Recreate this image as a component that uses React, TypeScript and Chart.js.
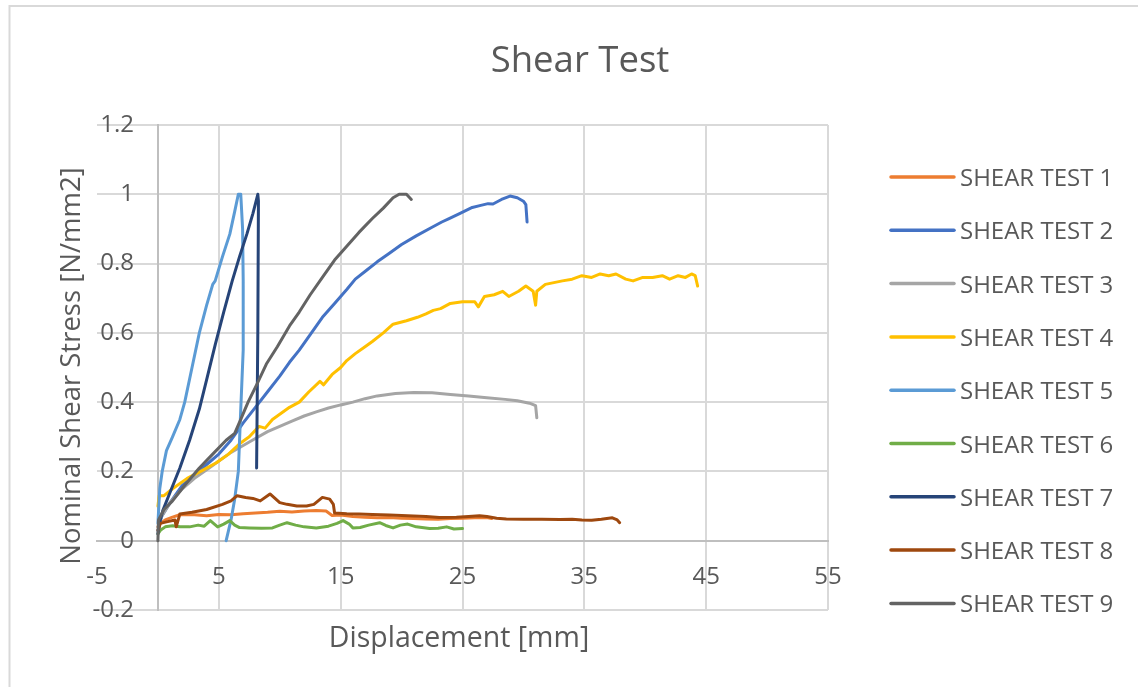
import React, { useEffect, useRef } from 'react';
import { Chart, registerables } from 'chart.js';

Chart.register(...registerables);

const chartTitle = 'Shear Test';
const xAxisTitle = 'Displacement [mm]';
const yAxisTitle = 'Nominal Shear Stress [N/mm2]';

const seriesLabels = [
  'SHEAR TEST 1', 'SHEAR TEST 2', 'SHEAR TEST 3', 'SHEAR TEST 4', 'SHEAR TEST 5',
  'SHEAR TEST 6', 'SHEAR TEST 7', 'SHEAR TEST 8', 'SHEAR TEST 9',
];
const seriesColors = ['#ED7D31', '#4472C4', '#A5A5A5', '#FFC000', '#5B9BD5', '#70AD47', '#264478', '#9E480E', '#636363'];

const xTicks = [-5, 5, 15, 25, 35, 45, 55];
const yTicks = [-0.2, 0, 0.2, 0.4, 0.6, 0.8, 1, 1.2];

const test1X = [0, 0.2, 0.6, 1.2, 1.8, 3, 4, 5, 6, 7, 8, 9, 10, 11, 12, 13, 13.8, 14.3, 15, 16, 17, 18, 19, 20, 21, 22, 23, 24, 25, 26, 27, 27.4];
const test1Y = [0.04, 0.05, 0.06, 0.068, 0.075, 0.075, 0.072, 0.076, 0.075, 0.078, 0.08, 0.082, 0.085, 0.083, 0.086, 0.087, 0.086, 0.073, 0.074, 0.07, 0.068, 0.066, 0.067, 0.065, 0.064, 0.063, 0.062, 0.064, 0.065, 0.066, 0.067, 0.064];

const test2X = [0, 0.3, 1, 2, 3, 4, 5, 6, 7, 8, 9, 10, 10.8, 11.6, 12.5, 13.5, 14.5, 15.5, 16.2, 17.1, 18, 19, 20, 21.2, 22.5, 23.3, 23.9, 24.8, 25.8, 26.5, 27.1, 27.5, 28.2, 28.9, 29.5, 30, 30.2, 30.3];
const test2Y = [0.03, 0.07, 0.11, 0.16, 0.19, 0.22, 0.25, 0.29, 0.34, 0.385, 0.43, 0.475, 0.515, 0.55, 0.595, 0.645, 0.685, 0.725, 0.755, 0.78, 0.805, 0.83, 0.855, 0.88, 0.905, 0.92, 0.93, 0.945, 0.962, 0.968, 0.973, 0.972, 0.985, 0.995, 0.99, 0.98, 0.97, 0.92];

const test3X = [0, 0.3, 1, 2, 3, 4, 5, 6, 7, 8, 9, 10, 11, 12, 13, 14, 15, 16, 17, 18, 19.5, 21, 22.5, 24, 25.5, 27, 28.5, 29.5, 30.5, 31, 31.1];
const test3Y = [0.04, 0.07, 0.11, 0.15, 0.18, 0.205, 0.23, 0.255, 0.275, 0.295, 0.315, 0.33, 0.345, 0.36, 0.372, 0.383, 0.392, 0.4, 0.41, 0.418, 0.425, 0.428, 0.427, 0.422, 0.418, 0.413, 0.408, 0.404, 0.397, 0.39, 0.355];

const test4X = [0, 0.1, 0.5, 1.2, 2.4, 3.5, 4.8, 5.8, 6.7, 7.5, 8.3, 8.8, 9.4, 10.2, 10.8, 11.6, 12.4, 13.3, 13.6, 14.3, 15, 15.5, 16.2, 17, 17.6, 18.5, 19.3, 20.4, 21.3, 22, 22.6, 23.2, 24, 25, 26, 26.3, 26.8, 27.6, 28.3, 28.8, 29.6, 30.2, 30.8, 31, 31.1, 31.8, 32.5, 33.2, 34, 34.8, 35.6, 36.3, 37, 37.6, 38.4, 39, 39.8, 40.6, 41.4, 42, 42.7, 43.3, 43.8, 44.1, 44.3];
const test4Y = [0.1, 0.13, 0.13, 0.15, 0.18, 0.2, 0.225, 0.25, 0.28, 0.3, 0.33, 0.325, 0.35, 0.37, 0.385, 0.4, 0.43, 0.46, 0.45, 0.48, 0.5, 0.52, 0.54, 0.56, 0.575, 0.6, 0.625, 0.635, 0.645, 0.655, 0.665, 0.67, 0.685, 0.69, 0.69, 0.675, 0.705, 0.71, 0.72, 0.705, 0.72, 0.735, 0.72, 0.68, 0.72, 0.74, 0.745, 0.75, 0.755, 0.765, 0.76, 0.77, 0.765, 0.77, 0.755, 0.75, 0.76, 0.76, 0.765, 0.755, 0.765, 0.76, 0.77, 0.765, 0.735];

const test5X = [0, 0.15, 0.35, 0.7, 1.2, 1.8, 2.2, 2.8, 3.4, 4.0, 4.5, 4.7, 5.3, 5.9, 6.3, 6.6, 6.8, 6.95, 7.0, 7.0, 6.8, 6.6, 6.3, 6.0, 5.6];
const test5Y = [0.05, 0.15, 0.2, 0.26, 0.3, 0.35, 0.4, 0.5, 0.6, 0.68, 0.74, 0.75, 0.82, 0.885, 0.95, 1.0, 1.0, 0.9, 0.75, 0.55, 0.38, 0.2, 0.12, 0.06, 0.0];

const test6X = [0, 0.2, 0.6, 1.2, 1.8, 2.6, 3.3, 3.8, 4.3, 4.9, 5.4, 5.9, 6.3, 6.7, 7.5, 8.5, 9.4, 10, 10.6, 11.3, 12, 13, 14, 14.7, 15.2, 15.7, 16, 16.6, 17.3, 18.2, 18.7, 19.3, 19.9, 20.5, 21.2, 22.3, 23, 23.7, 24.3, 25];
const test6Y = [0.02, 0.03, 0.04, 0.043, 0.04, 0.04, 0.045, 0.042, 0.058, 0.04, 0.048, 0.058, 0.045, 0.038, 0.037, 0.036, 0.037, 0.045, 0.052, 0.045, 0.04, 0.037, 0.042, 0.05, 0.058, 0.048, 0.037, 0.038, 0.045, 0.052, 0.044, 0.037, 0.045, 0.048, 0.04, 0.035, 0.036, 0.04, 0.034, 0.035];

const test7X = [0, 0.2, 0.4, 1.0, 1.8, 2.6, 3.4, 4.0, 4.7, 5.4, 6.1, 6.7, 7.3, 7.8, 8.2, 8.25, 8.2, 8.1];
const test7Y = [0.02, 0.06, 0.087, 0.14, 0.21, 0.29, 0.38, 0.465, 0.565, 0.66, 0.75, 0.82, 0.885, 0.945, 1.0, 0.98, 0.6, 0.21];

const test8X = [0, 0.2, 0.8, 1.4, 1.5, 1.8, 2.8, 4, 5.3, 6, 6.5, 7.2, 7.8, 8.4, 9.2, 10, 10.6, 11.4, 12.2, 12.8, 13.5, 14.1, 14.4, 14.5, 15.5, 16.5, 17.6, 19, 20.5, 22, 23.1, 24.5, 25.5, 26.4, 27, 27.8, 28.6, 30, 31.5, 33, 34, 34.8, 35.6, 36.4, 37, 37.3, 37.7, 37.9];
const test8Y = [0.03, 0.05, 0.055, 0.06, 0.04, 0.077, 0.082, 0.09, 0.105, 0.115, 0.13, 0.125, 0.122, 0.115, 0.135, 0.11, 0.105, 0.1, 0.1, 0.105, 0.125, 0.12, 0.105, 0.08, 0.078, 0.077, 0.076, 0.074, 0.072, 0.07, 0.067, 0.068, 0.07, 0.072, 0.07, 0.065, 0.063, 0.062, 0.062, 0.061, 0.062, 0.06, 0.059, 0.062, 0.065, 0.066, 0.06, 0.052];

const test9X = [0, 0.05, 0.5, 1.2, 2.2, 3.4, 4.5, 5.6, 6.3, 6.8, 7.4, 8.1, 8.9, 9.8, 10.8, 11.6, 12.5, 13.5, 14.5, 15.5, 16.5, 17.6, 18.5, 19.3, 19.8, 20.4, 20.8];
const test9Y = [0, 0.06, 0.09, 0.115, 0.16, 0.21, 0.25, 0.29, 0.31, 0.35, 0.4, 0.45, 0.51, 0.56, 0.62, 0.66, 0.71, 0.76, 0.81, 0.85, 0.89, 0.93, 0.96, 0.99, 1.0, 1.0, 0.985];

const seriesX = [test1X, test2X, test3X, test4X, test5X, test6X, test7X, test8X, test9X];
const seriesY = [test1Y, test2Y, test3Y, test4Y, test5Y, test6Y, test7Y, test8Y, test9Y];

const FONT = '"Open Sans", "Noto Sans", sans-serif';
const TEXT_COLOR = '#595959';

const decorPlugin = {
  id: 'decor',
  beforeDraw(chart: any) {
    const ctx = chart.ctx;
    ctx.save();
    ctx.fillStyle = '#ffffff';
    ctx.fillRect(0, 0, chart.width, chart.height);
    ctx.strokeStyle = '#d9d9d9';
    ctx.lineWidth = 2;
    ctx.beginPath();
    ctx.moveTo(9.5, chart.height);
    ctx.lineTo(9.5, 6);
    ctx.lineTo(chart.width, 6);
    ctx.stroke();
    ctx.restore();
  },
  afterDraw(chart: any) {
    const ctx = chart.ctx;
    ctx.save();
    ctx.fillStyle = TEXT_COLOR;
    ctx.textAlign = 'center';
    ctx.textBaseline = 'alphabetic';
    ctx.font = `36.5px ${FONT}`;
    ctx.fillText(chartTitle, 580, 72);
    ctx.font = `28.5px ${FONT}`;
    ctx.fillText(xAxisTitle, 459, 647);
    ctx.save();
    ctx.translate(80, 366);
    ctx.rotate(-Math.PI / 2);
    ctx.font = `27.5px ${FONT}`;
    ctx.fillText(yAxisTitle, 0, 0);
    ctx.restore();

    // legend
    ctx.font = `24px ${FONT}`;
    ctx.textAlign = 'left';
    chart.data.datasets.forEach((ds: any, i: number) => {
      const y = 177 + i * 53.3;
      ctx.strokeStyle = ds.borderColor;
      ctx.lineWidth = 3.5;
      ctx.lineCap = 'round';
      ctx.beginPath();
      ctx.moveTo(891, y);
      ctx.lineTo(954, y);
      ctx.stroke();
      ctx.fillStyle = TEXT_COLOR;
      ctx.fillText(ds.label, 960, y + 9);
    });
    ctx.restore();
  },
};

export default function App() {
  const canvasRef = useRef<HTMLCanvasElement | null>(null);

  useEffect(() => {
    const canvas = canvasRef.current;
    if (!canvas) return;
    const datasets = seriesLabels.map((label, i) => ({
      label,
      data: seriesX[i].map((x, j) => ({ x, y: seriesY[i][j] })),
      borderColor: seriesColors[i],
      backgroundColor: seriesColors[i],
      borderWidth: 3,
      pointRadius: 0,
      showLine: true,
      tension: 0,
      fill: false,
      order: seriesLabels.length - i,
      borderJoinStyle: 'round' as const,
      borderCapStyle: 'round' as const,
    }));

    const chart = new Chart(canvas, {
      type: 'scatter',
      data: { datasets },
      plugins: [decorPlugin],
      options: {
        responsive: false,
        animation: false,
        events: [],
        layout: { padding: { left: 97, right: 310, top: 125, bottom: 77 } },
        plugins: {
          legend: { display: false },
          title: { display: false },
          tooltip: { enabled: false },
        },
        scales: {
          x: {
            type: 'linear',
            position: { y: 0 } as any,
            min: -5,
            max: 55,
            afterBuildTicks: (scale: any) => {
              scale.ticks = xTicks.map((v) => ({ value: v }));
            },
            ticks: {
              padding: 22,
              maxRotation: 0,
              autoSkip: false,
              color: TEXT_COLOR,
              font: { family: FONT, size: 24 },
              callback: (v: any) => String(Number(v)),
            },
            grid: {
              drawTicks: false,
              lineWidth: 2,
              color: (c: any) => (c.tick && c.tick.value === -5 ? 'rgba(0,0,0,0)' : '#d9d9d9'),
            },
            border: { display: true, color: '#bfbfbf', width: 2 },
          },
          y: {
            type: 'linear',
            position: { x: 0 } as any,
            min: -0.2,
            max: 1.2,
            afterBuildTicks: (scale: any) => {
              scale.ticks = yTicks.map((v) => ({ value: v }));
            },
            ticks: {
              padding: 25,
              autoSkip: false,
              color: TEXT_COLOR,
              font: { family: FONT, size: 24 },
              // label sits right-aligned on the axis; an em space keeps the gap seen in the original
              callback: (v: any) => String(Math.round(Number(v) * 10) / 10) + '\u2003',
            },
            grid: {
              drawTicks: false,
              lineWidth: 2,
              color: '#d9d9d9',
            },
            border: { display: true, color: '#bfbfbf', width: 2 },
          },
        },
      },
    });
    return () => chart.destroy();
  }, []);

  return (
    <div style={{ position: 'fixed', left: 0, top: 0, width: 1138, height: 687, background: '#fff' }}>
      <canvas ref={canvasRef} width={1138} height={687} style={{ display: 'block', width: 1138, height: 687 }} />
    </div>
  );
}
